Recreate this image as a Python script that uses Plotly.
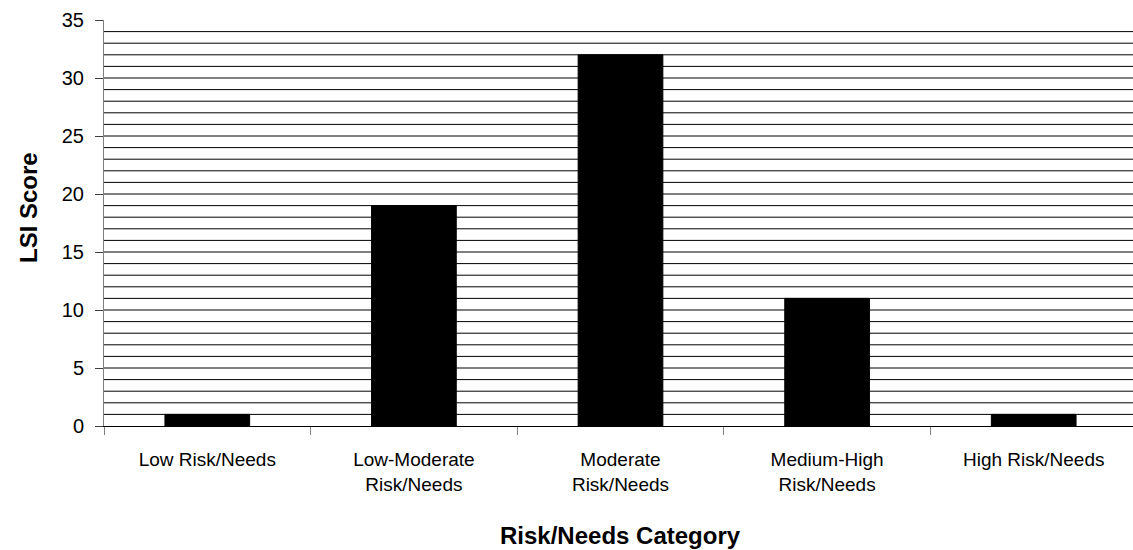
import plotly.graph_objects as go

categories = ["Low Risk/Needs", "Low-Moderate<br>Risk/Needs", "Moderate<br>Risk/Needs",
              "Medium-High<br>Risk/Needs", "High Risk/Needs"]
scores = [1, 19, 32, 11, 1]
y_ticks = [0, 5, 10, 15, 20, 25, 30, 35]
grid_values = list(range(1, 35))

fig = go.Figure()
fig.add_trace(go.Bar(x=categories, y=scores, width=0.41,
                     marker=dict(color="black", line=dict(color="black", width=1))))

shapes = [dict(type="line", xref="paper", x0=0, x1=1, yref="y", y0=v, y1=v,
               line=dict(color="black", width=1), layer="below") for v in grid_values]

font_family = "Liberation Sans, Arial, sans-serif"
ml, mt = 104, 20
plot_h = 406
plot_w = 1033
W, H = ml + plot_w, 550
fig.update_layout(
    width=W, height=H,
    margin=dict(l=ml, r=0, t=mt, b=H - mt - plot_h, autoexpand=False),
    paper_bgcolor="white", plot_bgcolor="white",
    showlegend=False,
    font=dict(family=font_family, color="black"),
    shapes=shapes,
    xaxis=dict(type="category", tickson="boundaries", ticks="outside", ticklen=8,
               tickcolor="#808080", showline=True, linecolor="black", linewidth=1,
               showgrid=False, tickfont=dict(size=19), ticklabelstandoff=16),
    yaxis=dict(range=[0, 35], tickvals=y_ticks, ticks="outside", ticklen=8,
               tickcolor="#404040", showline=True, linecolor="#808080", linewidth=1,
               showgrid=False, zeroline=False, tickfont=dict(size=20), ticklabelstandoff=7),
    annotations=[
        dict(text="<b>Risk/Needs Category</b>", xref="paper", yref="paper",
             x=(620 - ml) / plot_w, y=(426 - 535) / plot_h, xanchor="center", yanchor="middle",
             showarrow=False, font=dict(size=24)),
        dict(text="<b>LSI Score</b>", xref="paper", yref="paper", textangle=-90,
             x=(28 - ml) / plot_w, y=(426 - 208) / plot_h, xanchor="center", yanchor="middle",
             showarrow=False, font=dict(size=24)),
    ],
)

fig.write_html("out.html", config={"displayModeBar": False},
               post_script="document.body.style.margin='0px';document.body.style.overflow='hidden';")
